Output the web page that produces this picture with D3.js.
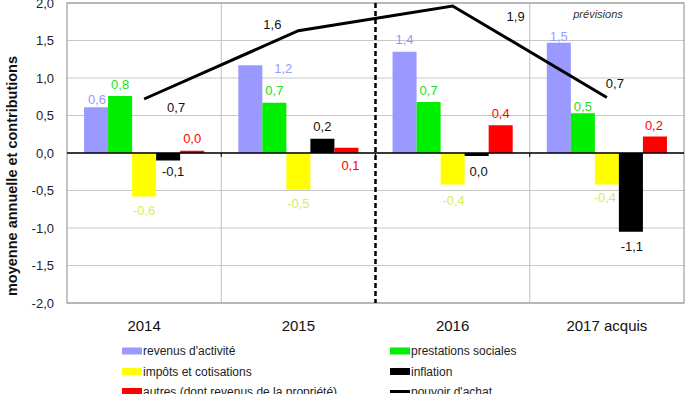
<!DOCTYPE html>
<html>
<head>
<meta charset="utf-8">
<script src="https://cdn.jsdelivr.net/npm/d3@7"></script>
<style>
  body { margin: 0; background: #fff; }
  svg { display: block; font-family: "Liberation Sans", Arial, sans-serif; }
</style>
</head>
<body>
<div class="container"></div>
<script>
const WIDTH = 700
const HEIGHT = 394

// data
const categories = ['2014', '2015', '2016', '2017 acquis']
const revenus = [0.61, 1.17, 1.35, 1.47]
const prestations = [0.76, 0.67, 0.68, 0.53]
const impots = [-0.58, -0.49, -0.42, -0.42]
const inflation = [-0.10, 0.19, -0.04, -1.05]
const autres = [0.03, 0.07, 0.37, 0.22]
const pouvoir = [0.72, 1.63, 1.96, 0.74]

// printed labels
const revenusLabels = ['0,6', '1,2', '1,4', '1,5']
const prestationsLabels = ['0,8', '0,7', '0,7', '0,5']
const impotsLabels = ['-0,6', '-0,5', '-0,4', '-0,4']
const inflationLabels = ['-0,1', '0,2', '0,0', '-1,1']
const autresLabels = ['0,0', '0,1', '0,4', '0,2']
const pouvoirLabels = ['0,7', '1,6', '1,9', '0,7']

const yTicks = [-2, -1.5, -1, -0.5, 0, 0.5, 1, 1.5, 2]

const series = [
    { name: "revenus d'activité", values: revenus, labels: revenusLabels, color: '#9999ff', text: '#9999ff' },
    { name: 'prestations sociales', values: prestations, labels: prestationsLabels, color: '#00ee00', text: '#22dd22' },
    { name: 'impôts et cotisations', values: impots, labels: impotsLabels, color: '#ffff00', text: '#d6ec5e' },
    { name: 'inflation', values: inflation, labels: inflationLabels, color: '#000000', text: '#111111' },
    { name: 'autres (dont revenus de la propriété)', values: autres, labels: autresLabels, color: '#ff0000', text: '#ff0000' }
]

// hand-placed label nudges (pixels)
const nudge = {
    '0|0': [1, 4], '0|3': [5, -3],
    '1|0': [33, 15], '1|4': [4, 30],
    '2|2': [1, 2], '2|3': [2, 1],
    '3|0': [0, 6], '3|1': [0, 5], '3|2': [-2, -1], '3|3': [1, 1], '3|4': [-1, 1]
}
const lineNudge = [[32, 8], [-26, -6], [63, 10], [8, -14]]

const pLeft = 67, pRight = 684, pTop = 3, pBottom = 303

const x = d3.scaleBand().domain(categories).range([pLeft, pRight])
const xInner = d3.scaleBand().domain(d3.range(series.length)).range([0, x.bandwidth()]).paddingOuter(0.71)
const y = d3.scaleLinear().domain([-2, 2]).range([pBottom, pTop])
const fmt = v => d3.format('.1f')(v).replace('.', ',').replace('−', '-')

const svg = d3.select('.container').append('svg')
    .attr('width', WIDTH)
    .attr('height', HEIGHT)

// horizontal grid
svg.append('g')
    .selectAll('line')
    .data(yTicks)
    .join('line')
    .attr('x1', pLeft).attr('x2', pRight)
    .attr('y1', d => y(d)).attr('y2', d => y(d))
    .attr('stroke', '#c8c8c8')
    .attr('stroke-width', 1)

// category separators
const bounds = categories.slice(1).map(c => x(c))
svg.append('g')
    .selectAll('line')
    .data(bounds.filter((d, i) => i !== 1))
    .join('line')
    .attr('x1', d => d).attr('x2', d => d)
    .attr('y1', pTop).attr('y2', pBottom)
    .attr('stroke', '#c0c0c0')

// plot border
svg.append('rect')
    .attr('x', pLeft).attr('y', pTop)
    .attr('width', pRight - pLeft).attr('height', pBottom - pTop)
    .attr('fill', 'none')
    .attr('stroke', '#8c8c8c')

// y tick labels
svg.append('g')
    .selectAll('text')
    .data(yTicks)
    .join('text')
    .attr('x', 54)
    .attr('y', d => y(d))
    .attr('dy', '0.35em')
    .attr('text-anchor', 'end')
    .attr('font-size', 13)
    .attr('fill', '#222')
    .text(fmt)

// y title
svg.append('text')
    .attr('transform', 'translate(17,176) rotate(-90)')
    .attr('text-anchor', 'middle')
    .attr('font-size', 14.5)
    .attr('font-weight', 'bold')
    .attr('fill', '#111')
    .text('moyenne annuelle et contributions')

// bars
const cells = []
series.forEach((s, si) => {
    s.values.forEach((v, ci) => cells.push({ si, ci, v, s }))
})

svg.append('g')
    .selectAll('rect')
    .data(cells)
    .join('rect')
    .attr('x', d => x(categories[d.ci]) + xInner(d.si))
    .attr('width', xInner.bandwidth())
    .attr('y', d => y(Math.max(0, d.v)))
    .attr('height', d => Math.abs(y(d.v) - y(0)))
    .attr('fill', d => d.s.color)

// zero axis + ticks
svg.append('line')
    .attr('x1', pLeft).attr('x2', pRight)
    .attr('y1', y(0)).attr('y2', y(0))
    .attr('stroke', '#000')
    .attr('stroke-width', 1.5)
svg.append('g')
    .selectAll('line')
    .data(bounds)
    .join('line')
    .attr('x1', d => d).attr('x2', d => d)
    .attr('y1', y(0)).attr('y2', y(0) + 4)
    .attr('stroke', '#000')

// forecast separator
svg.append('line')
    .attr('x1', x('2016')).attr('x2', x('2016'))
    .attr('y1', pTop).attr('y2', pBottom)
    .attr('stroke', '#000')
    .attr('stroke-width', 2.5)
    .attr('stroke-dasharray', '5,3')

// bar labels
svg.append('g')
    .selectAll('text')
    .data(cells)
    .join('text')
    .attr('x', d => x(categories[d.ci]) + xInner(d.si) + xInner.bandwidth() / 2 + (nudge[d.ci + '|' + d.si] || [0, 0])[0])
    .attr('y', d => (d.v >= 0 ? y(d.v) - 12 : y(d.v) + 14) + (nudge[d.ci + '|' + d.si] || [0, 0])[1])
    .attr('dy', '0.35em')
    .attr('text-anchor', 'middle')
    .attr('font-size', 13)
    .attr('fill', d => d.s.text)
    .text(d => d.s.labels[d.ci])

// pouvoir d'achat line
const cx = c => x(c) + x.bandwidth() / 2
svg.append('path')
    .datum(pouvoir)
    .attr('fill', 'none')
    .attr('stroke', '#000')
    .attr('stroke-width', 3)
    .attr('d', d3.line().x((d, i) => cx(categories[i])).y(d => y(d)))

svg.append('g')
    .selectAll('text')
    .data(pouvoir)
    .join('text')
    .attr('x', (d, i) => cx(categories[i]) + lineNudge[i][0])
    .attr('y', (d, i) => y(d) + lineNudge[i][1])
    .attr('dy', '0.35em')
    .attr('text-anchor', 'middle')
    .attr('font-size', 13)
    .attr('fill', '#111')
    .text((d, i) => pouvoirLabels[i])

svg.append('text')
    .attr('x', 598).attr('y', 14)
    .attr('dy', '0.35em')
    .attr('text-anchor', 'middle')
    .attr('font-size', 11)
    .attr('font-style', 'italic')
    .attr('fill', '#333')
    .text('prévisions')

// category labels
svg.append('g')
    .selectAll('text')
    .data(categories)
    .join('text')
    .attr('x', d => cx(d))
    .attr('y', 326)
    .attr('dy', '0.35em')
    .attr('text-anchor', 'middle')
    .attr('font-size', 15)
    .attr('fill', '#111')
    .text(d => d)

// legend
const legendItems = [
    { name: series[0].name, color: series[0].color, col: 0, row: 0 },
    { name: series[1].name, color: series[1].color, col: 1, row: 0 },
    { name: series[2].name, color: series[2].color, col: 0, row: 1 },
    { name: series[3].name, color: series[3].color, col: 1, row: 1 },
    { name: series[4].name, color: series[4].color, col: 0, row: 2 },
    { name: "pouvoir d'achat", color: '#000', col: 1, row: 2, line: true }
]
const legCol = [122, 390]
const legRow = [351, 371.5, 391.5]

const leg = svg.append('g')
    .selectAll('g')
    .data(legendItems)
    .join('g')
    .attr('transform', d => `translate(${legCol[d.col]},${legRow[d.row]})`)

leg.filter(d => !d.line).append('rect')
    .attr('x', 0).attr('y', -3.5)
    .attr('width', 20).attr('height', 7)
    .attr('fill', d => d.color)
leg.filter(d => d.line).append('line')
    .attr('x1', 0).attr('x2', 20)
    .attr('stroke', '#000')
    .attr('stroke-width', 3)
leg.append('text')
    .attr('x', 21)
    .attr('dy', '0.35em')
    .attr('font-size', 12)
    .attr('fill', '#222')
    .text(d => d.name)
</script>
</body>
</html>
